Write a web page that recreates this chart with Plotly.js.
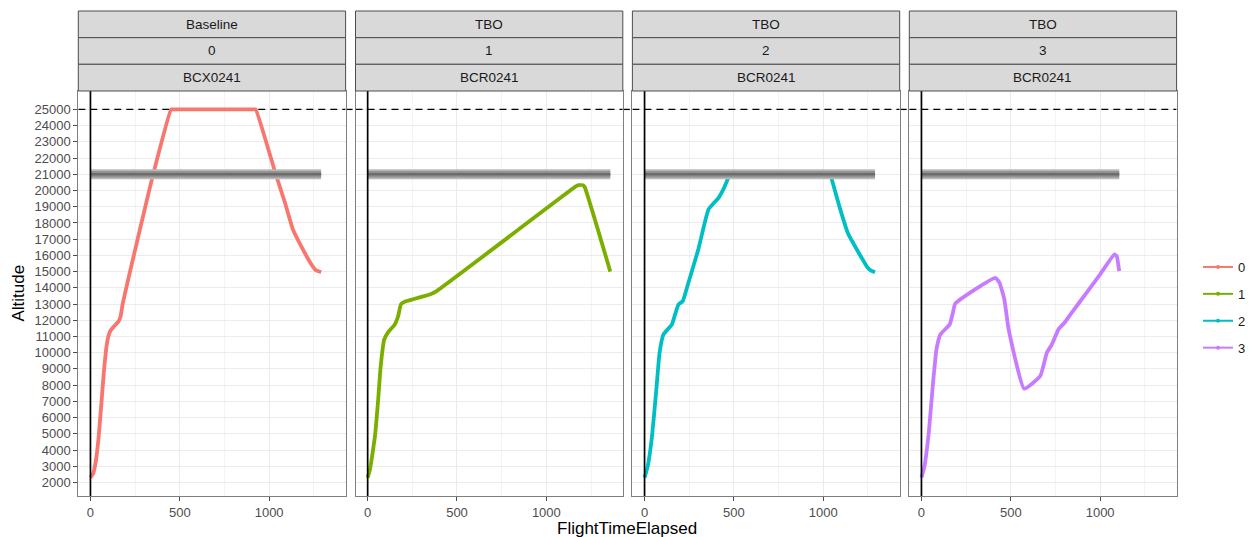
<!DOCTYPE html>
<html>
<head>
<meta charset="utf-8">
<script src="https://cdn.plot.ly/plotly-3.0.1.min.js"></script>
<style>
  html, body { margin: 0; padding: 0; background: #fff; }
  #chart { width: 1253px; height: 537px; }
</style>
</head>
<body>
<div id="chart"></div>
<script>
// Facet strip labels (three rows per panel)
const stripGroup = ['Baseline', 'TBO', 'TBO', 'TBO'];
const stripRun = ['0', '1', '2', '3'];
const stripTail = ['BCX0241', 'BCR0241', 'BCR0241', 'BCR0241'];

// Series names (legend) and colours
const seriesNames = ['0', '1', '2', '3'];
const seriesColors = ['#F8766D', '#7CAE00', '#00BFC4', '#C77CFF'];

// Flight profiles: elapsed time vs altitude
const time0 = [0, 15, 30, 45, 60, 75, 90, 100, 112, 130, 155, 168, 180, 232, 344, 451, 460, 915, 925, 1037, 1090, 1133, 1180, 1236, 1260, 1291];
const alt0 = [2300, 2550, 3300, 4700, 6700, 8800, 10400, 11000, 11350, 11600, 11900, 12200, 13000, 15500, 20700, 25000, 25000, 25000, 25000, 21000, 19200, 17600, 16550, 15450, 15100, 14970];

const time1 = [0, 13, 41, 59, 73, 93, 115, 152, 171, 186, 218, 348, 386, 1165, 1180, 1205, 1215, 1358];
const alt1 = [2300, 2800, 4860, 7120, 9170, 10820, 11270, 11740, 12260, 12980, 13180, 13590, 13800, 20250, 20330, 20330, 20200, 15000];

const time2 = [0, 18, 42, 66, 84, 106, 153, 171, 190, 214, 245, 301, 358, 414, 441, 469, 477, null, 1040, 1090, 1137, 1193, 1249, 1270, 1290];
const alt2 = [2300, 3010, 4860, 7740, 10000, 11130, 11740, 12360, 12980, 13180, 14300, 16370, 18830, 19550, 20070, 20790, 21000, null, 21000, 19040, 17400, 16270, 15240, 15050, 14970];

const time3 = [0, 17, 41, 65, 84, 106, 158, 176, 190, 413, 437, 464, 488, 575, 665, 702, 730, 767, 804, 841, 869, 1000, 1080, 1093, 1107];
const alt3 = [2300, 3010, 5070, 8150, 10200, 11130, 11740, 12470, 13040, 14620, 14310, 13290, 11440, 7780, 8560, 10000, 10510, 11440, 11890, 12470, 12880, 14830, 16060, 15950, 15030];

// Reference altitudes
const ceilingAlt = 25000;
const limitAlt = 21000;

// Axis ticks
const xTicks = [0, 500, 1000];
const yTicks = [2000, 3000, 4000, 5000, 6000, 7000, 8000, 9000, 10000, 11000, 12000, 13000,
  14000, 15000, 16000, 17000, 18000, 19000, 20000, 21000, 22000, 23000, 24000, 25000];

const times = [time0, time1, time2, time3];
const alts = [alt0, alt1, alt2, alt3];

// ---- page geometry (pixels) ----
const W = 1253, H = 537;
const panelLeft = [78.3, 355.5, 632.4, 909.3];
const panelWidth = 267.3;
const plotTop = 91, plotBottom = 496;
const stripEdges = [11, 37.7, 64.3, 91];
const xRange = [-68, 1428];
const yRange = [1165, 26135];
const fx = p => p / W;
const fy = p => 1 - p / H;

const FONT = 'Liberation Sans, Arial, sans-serif';
const ceilingLine = {color: '#000000', width: 1.3, dash: '7px,5px'};

const traces = [];
const shapes = [];
const annotations = [];
const layout = {
  width: W, height: H,
  margin: {l: 0, r: 0, t: 0, b: 0},
  paper_bgcolor: '#ffffff',
  plot_bgcolor: 'rgba(0,0,0,0)',
  font: {family: FONT, size: 13, color: '#4D4D4D'},
  showlegend: true,
  legend: {
    x: fx(1198), y: fy(252), xanchor: 'left', yanchor: 'top',
    font: {family: FONT, size: 13, color: '#1A1A1A'},
    tracegroupgap: 7,
    bgcolor: 'rgba(0,0,0,0)'
  }
};

for (let i = 0; i < 4; i++) {
  const sx = i === 0 ? '' : String(i + 1);
  const xName = 'xaxis' + sx, yName = 'yaxis' + sx;
  const xRef = 'x' + sx, yRef = 'y' + sx;
  const x0 = panelLeft[i], x1 = panelLeft[i] + panelWidth;

  layout[xName] = {
    domain: [fx(x0), fx(x1)],
    anchor: yRef,
    range: xRange,
    tickmode: 'array', tickvals: xTicks,
    ticks: 'outside', ticklen: 4, tickwidth: 1, tickcolor: '#4D4D4D',
    tickfont: {family: FONT, size: 13, color: '#4D4D4D'},
    showgrid: true, gridcolor: '#EBEBEB', gridwidth: 1,
    minor: {tickmode: 'linear', tick0: 0, dtick: 250, showgrid: true, gridcolor: '#F1F1F1', gridwidth: 0.8, ticks: ''},
    zeroline: false,
    showline: true, mirror: true, linecolor: '#7F7F7F', linewidth: 1
  };
  layout[yName] = {
    domain: [fy(plotBottom), fy(plotTop)],
    anchor: xRef,
    range: yRange,
    tickmode: 'array', tickvals: yTicks, ticktext: yTicks.map(String),
    ticks: i === 0 ? 'outside' : '', ticklen: 4, tickwidth: 1, tickcolor: '#4D4D4D',
    showticklabels: i === 0,
    tickfont: {family: FONT, size: 13, color: '#4D4D4D'},
    showgrid: true, gridcolor: '#EBEBEB', gridwidth: 1,
    zeroline: false,
    showline: true, mirror: true, linecolor: '#7F7F7F', linewidth: 1
  };
  if (i > 0) layout[yName].matches = 'y';

  // flight profile
  traces.push({
    type: 'scatter', mode: 'lines',
    x: times[i], y: alts[i],
    xaxis: xRef, yaxis: yRef,
    line: {color: seriesColors[i], width: 3.8, shape: 'spline', smoothing: 0.4},
    connectgaps: false,
    showlegend: false, hoverinfo: 'x+y'
  });

  // ceiling line inside the panel (above the grid, under the profile)
  shapes.push({type: 'line', xref: xRef, yref: yRef, x0: xRange[0], x1: xRange[1],
    y0: ceilingAlt, y1: ceilingAlt, line: ceilingLine, layer: 'between'});
  // ceiling line across the gap to the next panel
  if (i < 3) {
    shapes.push({type: 'line', xref: 'paper', yref: yRef, x0: fx(x1), x1: fx(panelLeft[i + 1]),
      y0: ceilingAlt, y1: ceilingAlt, line: ceilingLine, layer: 'below'});
  }

  // limit band at 21000, from start to the end of the profile
  const tEnd = Math.max(...times[i].filter(v => v !== null));
  [[10, '#B9B9B9'], [6.5, '#929292'], [2.5, '#6C6C6C']].forEach(([w, c]) => {
    shapes.push({type: 'line', xref: xRef, yref: yRef, x0: 0, x1: tEnd, y0: limitAlt, y1: limitAlt,
      line: {color: c, width: w}, layer: 'above'});
  });

  // start marker at t = 0
  shapes.push({type: 'line', xref: xRef, yref: yRef, x0: 0, x1: 0, y0: yRange[0], y1: yRange[1],
    line: {color: '#000000', width: 1.7}, layer: 'above'});

  // facet strips
  for (let r = 0; r < 3; r++) {
    shapes.push({type: 'rect', xref: 'paper', yref: 'paper',
      x0: fx(x0), x1: fx(x1), y0: fy(stripEdges[r + 1]), y1: fy(stripEdges[r]),
      fillcolor: '#D9D9D9', line: {color: '#4D4D4D', width: 1}, layer: 'above'});
    const txt = [stripGroup, stripRun, stripTail][r][i];
    annotations.push({xref: 'paper', yref: 'paper', x: fx((x0 + x1) / 2),
      y: fy((stripEdges[r] + stripEdges[r + 1]) / 2), text: txt, showarrow: false,
      xanchor: 'center', yanchor: 'middle', font: {family: FONT, size: 13.5, color: '#1A1A1A'}});
  }
}

// legend entries
for (let i = 0; i < 4; i++) {
  traces.push({
    type: 'scatter', mode: 'lines+markers', x: [null], y: [null],
    name: seriesNames[i], legendgroup: 'g' + i,
    line: {color: seriesColors[i], width: 2}, marker: {color: seriesColors[i], size: 4},
    showlegend: true, hoverinfo: 'skip'
  });
}

// axis titles
annotations.push({xref: 'paper', yref: 'paper', x: fx((panelLeft[0] + panelLeft[3] + panelWidth) / 2), y: fy(528),
  text: 'FlightTimeElapsed', showarrow: false, xanchor: 'center', yanchor: 'middle',
  font: {family: FONT, size: 17, color: '#000000'}});
annotations.push({xref: 'paper', yref: 'paper', x: fx(18), y: fy((plotTop + plotBottom) / 2),
  text: 'Altitude', textangle: -90, showarrow: false, xanchor: 'center', yanchor: 'middle',
  font: {family: FONT, size: 17, color: '#000000'}});

layout.shapes = shapes;
layout.annotations = annotations;

Plotly.newPlot('chart', traces, layout, {displayModeBar: false, staticPlot: true});
</script>
</body>
</html>
